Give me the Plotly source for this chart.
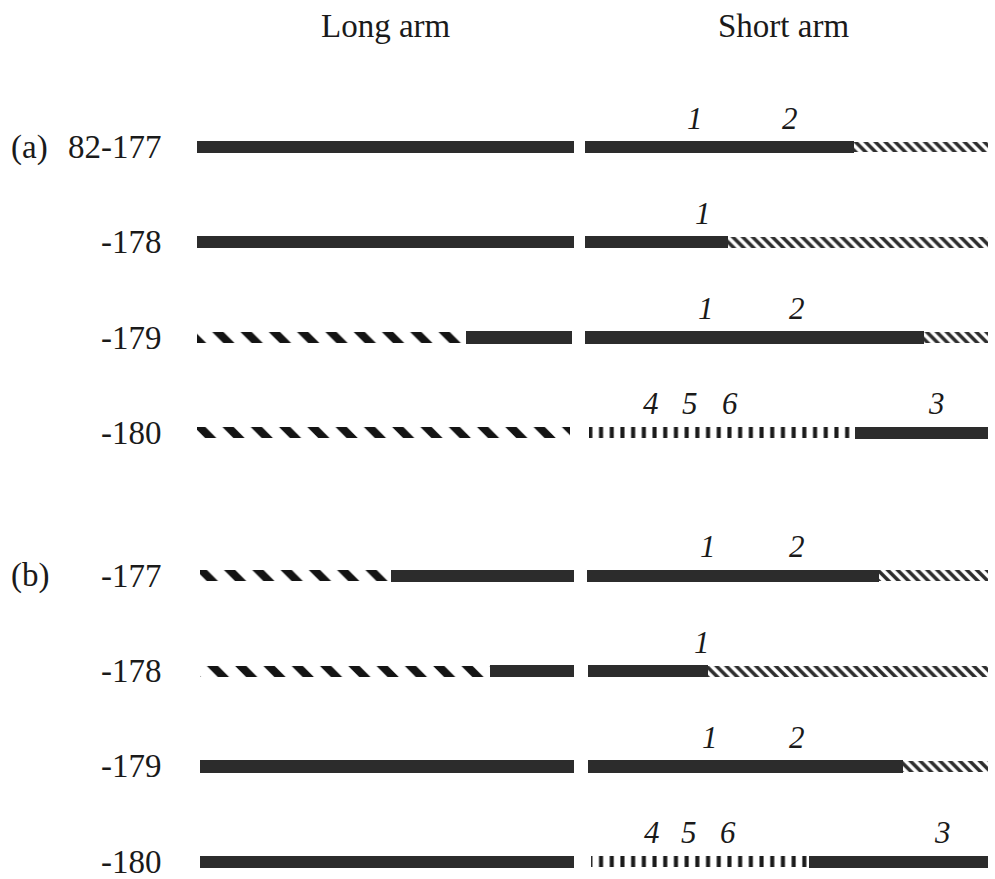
import plotly.graph_objects as go

# ---------------- data ----------------
row_labels = ["82-177", "-178", "-179", "-180", "-177", "-178", "-179", "-180"]
group_labels = ["(a)", "", "", "", "(b)", "", "", ""]
row_group = [0, 0, 0, 0, 1, 1, 1, 1]

# segments along each arm, in % of arm length: (start, end, kind)
long_arm = [
    [(0, 100, "solid")],
    [(0, 100, "solid")],
    [(0, 71.3, "coarse"), (71.3, 99.5, "solid")],
    [(0, 99, "coarse")],
    [(0.8, 51.5, "coarse"), (51.5, 100, "solid")],
    [(0.8, 77.8, "coarse"), (77.8, 100.3, "solid")],
    [(0.8, 100.3, "solid")],
    [(0.8, 100.3, "solid")],
]
short_arm = [
    [(0, 66.8, "solid"), (66.8, 100, "fine")],
    [(0, 35.5, "solid"), (35.5, 100, "fine")],
    [(0, 84.0, "solid"), (84.0, 100, "fine")],
    [(1.0, 67.0, "ticks"), (67.0, 100, "solid")],
    [(0.5, 73.0, "solid"), (73.0, 100, "fine")],
    [(0.7, 30.5, "solid"), (30.5, 100, "fine")],
    [(0.7, 79.0, "solid"), (79.0, 100, "fine")],
    [(1.5, 55.5, "ticks"), (55.5, 100, "solid")],
]
# marker loci on the short arm: (label, position %)
loci = [
    [("1", 27.3), ("2", 50.9)],
    [("1", 29.3)],
    [("1", 30.0), ("2", 52.6)],
    [("4", 16.3), ("5", 26.1), ("6", 35.9), ("3", 87.3)],
    [("1", 30.5), ("2", 52.6)],
    [("1", 29.0)],
    [("1", 31.0), ("2", 52.6)],
    [("4", 16.6), ("5", 25.8), ("6", 35.5), ("3", 88.8)],
]
arm_titles = ["Long arm", "Short arm"]

# ---------------- styling ----------------
W, H = 995, 879
SERIF = "Liberation Serif, Times New Roman, serif"
styles = {
    "solid": dict(color="#2c2c2c", width=0.13, pattern=None),
    "coarse": dict(color="#141414", width=0.115,
                   pattern=dict(shape="\\", size=20, solidity=0.4)),
    "fine": dict(color="#2c2c2c", width=0.115,
                 pattern=dict(shape="\\", size=7, solidity=0.5)),
    "ticks": dict(color="#1a1a1a", width=0.115,
                  pattern=dict(shape="|", size=10.7, solidity=0.38)),
}

row_y = [i + 0.5 * g for i, g in enumerate(row_group)]

fig = go.Figure()

for arm, axis in ((long_arm, "x"), (short_arm, "x2")):
    for kind, st in styles.items():
        ys, bases, lens = [], [], []
        for y, segs in zip(row_y, arm):
            for s, e, k in segs:
                if k == kind:
                    ys.append(y)
                    bases.append(s)
                    lens.append(e - s)
        if not ys:
            continue
        marker = dict(color=st["color"], line=dict(width=0))
        if st["pattern"] is not None:
            p = dict(st["pattern"])
            p.update(fgcolor=st["color"], bgcolor="white", fillmode="replace")
            marker["pattern"] = p
        fig.add_trace(go.Bar(
            orientation="h", y=ys, x=lens, base=bases,
            width=st["width"], marker=marker,
            xaxis=axis, yaxis="y", showlegend=False, hoverinfo="skip",
        ))

annotations = []
for y, lab, grp in zip(row_y, row_labels, group_labels):
    annotations.append(dict(x=164 / W, xref="paper", xanchor="right",
                            y=y, yref="y", yanchor="middle", text=lab,
                            showarrow=False, font=dict(family=SERIF, size=33, color="#1a1a1a")))
    if grp:
        annotations.append(dict(x=9 / W, xref="paper", xanchor="left",
                                y=y, yref="y", yanchor="middle", text=grp,
                                showarrow=False, font=dict(family=SERIF, size=33, color="#1a1a1a")))
for y, labs in zip(row_y, loci):
    for t, pos in labs:
        annotations.append(dict(x=pos, xref="x2", xanchor="center",
                                y=y, yref="y", yanchor="middle", yshift=29,
                                text="<i>" + t + "</i>", showarrow=False,
                                font=dict(family=SERIF, size=31, color="#1a1a1a")))
for t, cx in zip(arm_titles, (386, 783)):
    annotations.append(dict(x=cx / W, xref="paper", xanchor="center",
                            y=1 - 26 / H, yref="paper", yanchor="middle",
                            text=t, showarrow=False,
                            font=dict(family=SERIF, size=33, color="#1a1a1a")))

scale = 95.3
fig.update_layout(
    width=W, height=H, margin=dict(l=0, r=0, t=0, b=0),
    paper_bgcolor="white", plot_bgcolor="white",
    barmode="overlay", bargap=0,
    xaxis=dict(domain=[197 / W, 574 / W], range=[0, 100], visible=False, fixedrange=True),
    xaxis2=dict(domain=[585 / W, 988 / W], range=[0, 100], visible=False, fixedrange=True),
    yaxis=dict(range=[(H - 147) / scale, -147 / scale], visible=False, fixedrange=True),
    annotations=annotations,
)

fig.write_html("out.html", config={"displayModeBar": False},
               post_script="document.body.style.margin='0';document.body.style.overflow='hidden';")
